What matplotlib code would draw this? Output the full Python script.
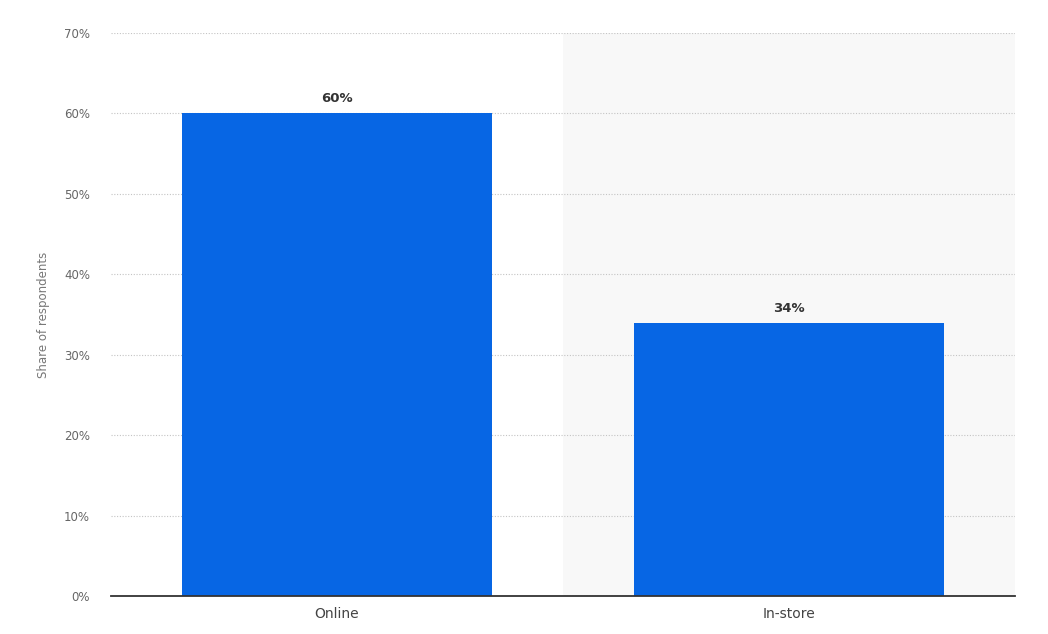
import matplotlib
matplotlib.use("Agg")
import matplotlib.pyplot as plt
import numpy as np

# data
categories = ["Online", "In-store"]
shares = [60, 34]
y_ticks = [0, 10, 20, 30, 40, 50, 60, 70]

plt.rcParams['font.family'] = ['DejaVu Sans']

fig = plt.figure(figsize=(10.48, 6.34), dpi=100)
ax = fig.add_axes([111/1048, 38/634, (1015-111)/1048, (596-33)/634])

x = np.arange(len(categories))

# light shading behind second category
ax.axvspan(0.5, 1.5, color='#f8f8f8', zorder=0, lw=0)

ax.bar(x, shares, width=0.684, color='#0766e4', zorder=3)

for xi, v in zip(x, shares):
    ax.text(xi, v + 1.0, f"{v}%", ha='center', va='bottom',
            fontsize=9.5, fontweight='bold', color='#333333', zorder=4)

ax.set_xlim(-0.5, 1.5)
ax.set_ylim(0, 70)
ax.set_yticks(y_ticks)
ax.set_yticklabels([f"{t}%" for t in y_ticks])
ax.set_xticks(x)
ax.set_xticklabels(categories)

ax.yaxis.grid(True, linestyle=(0, (1, 1.5)), color='#c4c4c4', linewidth=0.8, zorder=1)
ax.set_axisbelow(True)

for s in ['top', 'right', 'left']:
    ax.spines[s].set_visible(False)
ax.spines['bottom'].set_color('#333333')
ax.spines['bottom'].set_linewidth(1.3)
ax.spines['bottom'].set_zorder(5)

ax.tick_params(axis='y', length=0, pad=15, labelsize=8.5, labelcolor='#666666')
ax.tick_params(axis='x', length=0, pad=8, labelsize=10, labelcolor='#444444')

ax.set_ylabel("Share of respondents", fontsize=8.5, color='#777777', labelpad=10)

fig.savefig("out.png", dpi=100, facecolor='white')
